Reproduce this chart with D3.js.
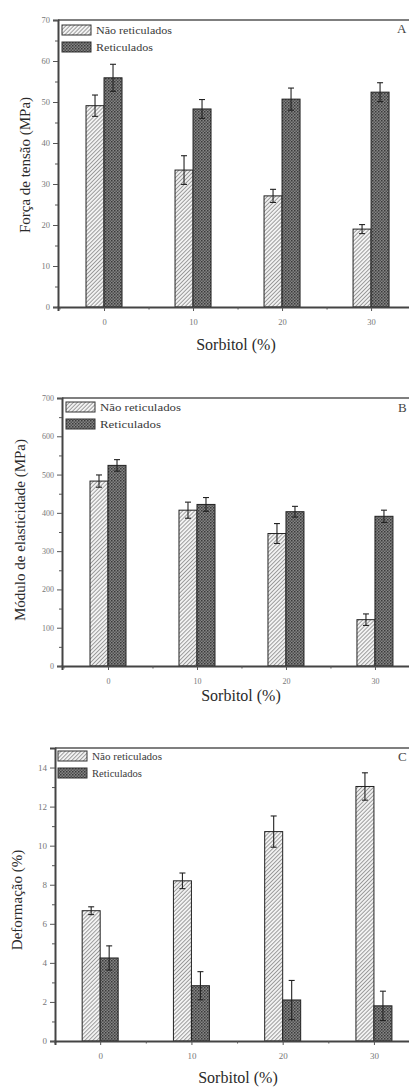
<!DOCTYPE html>
<html><head><meta charset="utf-8">
<script src="https://cdn.jsdelivr.net/npm/d3@7"></script>
<style>
html,body{margin:0;padding:0;background:#fff;}
svg{display:block;}
text{font-family:"Liberation Serif","Times New Roman","DejaVu Serif",serif;}
</style></head>
<body>
<svg id="chart" width="409" height="1088"></svg>
<script>
// ---------- DATA ----------
const sorbitol = [0, 10, 20, 30];
const seriesNames = ["Não reticulados", "Reticulados"];

const forcaNaoRet = [49.1, 33.4, 27.1, 19.0];
const forcaNaoRetErr = [2.6, 3.5, 1.6, 1.1];
const forcaRet = [55.9, 48.3, 50.7, 52.4];
const forcaRetErr = [3.3, 2.3, 2.7, 2.3];

const moduloNaoRet = [483, 407, 346, 121];
const moduloNaoRetErr = [16, 21, 26, 15];
const moduloRet = [524, 422, 403, 391];
const moduloRetErr = [15, 18, 14, 16];

const deformNaoRet = [6.67, 8.2, 10.72, 13.03];
const deformNaoRetErr = [0.2, 0.4, 0.8, 0.7];
const deformRet = [4.25, 2.83, 2.1, 1.8];
const deformRetErr = [0.62, 0.72, 1.0, 0.75];

const forcaTicks = [0, 10, 20, 30, 40, 50, 60, 70];
const moduloTicks = [0, 100, 200, 300, 400, 500, 600, 700];
const deformTicks = [0, 2, 4, 6, 8, 10, 12, 14];

const svg = d3.select("#chart");
const defs = svg.append("defs");

// hatch pattern (Não reticulados)
const ph = defs.append("pattern").attr("id","hatch").attr("patternUnits","userSpaceOnUse")
  .attr("width",2.8).attr("height",2.8).attr("patternTransform","rotate(45)");
ph.append("rect").attr("width",2.8).attr("height",2.8).attr("fill","#f2f2f2");
ph.append("line").attr("x1",0).attr("y1",0).attr("x2",0).attr("y2",2.8)
  .attr("stroke","#5a5a5a").attr("stroke-width",1.1);

// crosshatch / dotted pattern (Reticulados)
const pc = defs.append("pattern").attr("id","cross").attr("patternUnits","userSpaceOnUse")
  .attr("width",3).attr("height",3);
pc.append("rect").attr("width",3).attr("height",3).attr("fill","#858585");
pc.append("rect").attr("x",0).attr("y",0).attr("width",1.5).attr("height",1.5).attr("fill","#3a3a3a");
pc.append("rect").attr("x",1.5).attr("y",1.5).attr("width",1.5).attr("height",1.5).attr("fill","#505050");

function panel(cfg){
  const g = svg.append("g");
  const x = d3.scaleLinear().domain(cfg.xDomain).range([cfg.left, cfg.right]);
  const y = d3.scaleLinear().domain(cfg.yDomain).range([cfg.bottom, cfg.top]);
  const bw = cfg.barW;

  const series = [
    {vals: cfg.a, errs: cfg.aErr, fill:"url(#hatch)", off:-1},
    {vals: cfg.b, errs: cfg.bErr, fill:"url(#cross)", off:0}
  ];
  series.forEach(s=>{
    g.selectAll(null).data(sorbitol).enter().append("rect")
      .attr("x", (d)=> x(d) + s.off*bw)
      .attr("y", (d,i)=> y(s.vals[i]))
      .attr("width", bw)
      .attr("height", (d,i)=> y(0)-y(s.vals[i]))
      .attr("fill", s.fill).attr("stroke","#222").attr("stroke-width",1);
  });
  series.forEach(s=>{
    const cxf = d=> x(d) + s.off*bw + bw/2;
    const eg = g.append("g").attr("stroke","#222").attr("stroke-width",1.1);
    eg.selectAll(null).data(sorbitol).enter().append("line")
      .attr("x1",cxf).attr("x2",cxf)
      .attr("y1",(d,i)=>y(s.vals[i]-s.errs[i])).attr("y2",(d,i)=>y(s.vals[i]+s.errs[i]));
    eg.selectAll(null).data(sorbitol).enter().append("line")
      .attr("x1",d=>cxf(d)-3).attr("x2",d=>cxf(d)+3)
      .attr("y1",(d,i)=>y(s.vals[i]+s.errs[i])).attr("y2",(d,i)=>y(s.vals[i]+s.errs[i]));
    eg.selectAll(null).data(sorbitol).enter().append("line")
      .attr("x1",d=>cxf(d)-3).attr("x2",d=>cxf(d)+3)
      .attr("y1",(d,i)=>y(s.vals[i]-s.errs[i])).attr("y2",(d,i)=>y(s.vals[i]-s.errs[i]));
  });

  g.append("line").attr("x1",cfg.left).attr("x2",cfg.right).attr("y1",cfg.top).attr("y2",cfg.top)
    .attr("stroke","#555").attr("stroke-width",1.5);

  const xAx = d3.axisBottom(x).tickValues(sorbitol).tickSize(4).tickPadding(8).tickFormat(d3.format("d"));
  g.append("g").attr("transform",`translate(0,${cfg.bottom})`).call(xAx);
  const xMinor = d3.axisBottom(x).tickValues(cfg.xMinor).tickSize(2.5).tickFormat("");
  g.append("g").attr("transform",`translate(0,${cfg.bottom})`).call(xMinor).select(".domain").remove();

  const yAx = d3.axisLeft(y).tickValues(cfg.yTicks).tickSize(5).tickPadding(3).tickFormat(d3.format("d"));
  g.append("g").attr("transform",`translate(${cfg.left},0)`).call(yAx);
  const yMinor = d3.axisLeft(y).tickValues(cfg.yMinor).tickSize(3).tickFormat("");
  g.append("g").attr("transform",`translate(${cfg.left},0)`).call(yMinor).select(".domain").remove();

  g.selectAll(".domain").attr("stroke","#444").attr("stroke-width",2);
  g.selectAll(".tick line").attr("stroke","#555").attr("stroke-width",1);
  g.selectAll(".tick text").attr("fill","#777").attr("font-size", cfg.tickFont)
    .attr("font-family","'Liberation Serif',serif");

  g.append("text").attr("x",cfg.xTitleX).attr("y",cfg.xTitleY).attr("text-anchor","middle")
    .attr("font-size",16).attr("fill","#2a2a2a").text("Sorbitol (%)");
  g.append("text").attr("transform",`translate(${cfg.yTitleX},${cfg.yTitleY}) rotate(-90)`)
    .attr("text-anchor","middle").attr("font-size",15).attr("fill","#2a2a2a").text(cfg.yTitle);

  const fills = ["url(#hatch)","url(#cross)"];
  seriesNames.forEach((n,i)=>{
    const ly = cfg.legY + i*cfg.legDy;
    g.append("rect").attr("x",cfg.legX).attr("y",ly).attr("width",29).attr("height",10)
      .attr("fill",fills[i]).attr("stroke","#333").attr("stroke-width",1);
    g.append("text").attr("x",cfg.legX+34).attr("y",ly+8.5).attr("font-size",10.5).attr("fill","#3a3a3a")
      .attr("textLength", i===0?cfg.legW0:cfg.legW1).attr("lengthAdjust","spacingAndGlyphs").text(n);
  });

  g.append("text").attr("x",cfg.letterX).attr("y",cfg.letterY).attr("font-size",13).attr("fill","#444").text(cfg.letter);
}

panel({
  a: forcaNaoRet, aErr: forcaNaoRetErr, b: forcaRet, bErr: forcaRetErr,
  xDomain:[-5.17, 34.6], left:58, right:412,
  yDomain:[0,70], bottom:307, top:20, barW:18,
  yTicks: forcaTicks, yMinor:[5,15,25,35,45,55,65], xMinor:[-5,5,15,25],
  tickFont:8.5,
  xTitleX:236, xTitleY:350, yTitleX:30, yTitleY:165, yTitle:"Força de tensão (MPa)",
  legX:62, legY:25, legDy:17, legW0:76, legW1:57,
  letter:"A", letterX:397, letterY:33
});

panel({
  a: moduloNaoRet, aErr: moduloNaoRetErr, b: moduloRet, bErr: moduloRetErr,
  xDomain:[-5.17, 34.5], left:62, right:415,
  yDomain:[0,700], bottom:666, top:398, barW:18,
  yTicks: moduloTicks, yMinor:[50,150,250,350,450,550,650], xMinor:[-5,5,15,25],
  tickFont:8,
  xTitleX:241, xTitleY:701, yTitleX:25, yTitleY:530, yTitle:"Módulo de elasticidade (MPa)",
  legX:66, legY:402, legDy:17, legW0:81, legW1:61,
  letter:"B", letterX:398, letterY:412
});

panel({
  a: deformNaoRet, aErr: deformNaoRetErr, b: deformRet, bErr: deformRetErr,
  xDomain:[-4.95, 34.5], left:55, right:415,
  yDomain:[0,15], bottom:1041, top:748, barW:18,
  yTicks: deformTicks, yMinor:[1,3,5,7,9,11,13], xMinor:[-5,5,15,25],
  tickFont:9,
  xTitleX:238, xTitleY:1083, yTitleX:22, yTitleY:900, yTitle:"Deformação (%)",
  legX:58, legY:751, legDy:17, legW0:70, legW1:50,
  letter:"C", letterX:398, letterY:761
});
</script>
</body></html>
